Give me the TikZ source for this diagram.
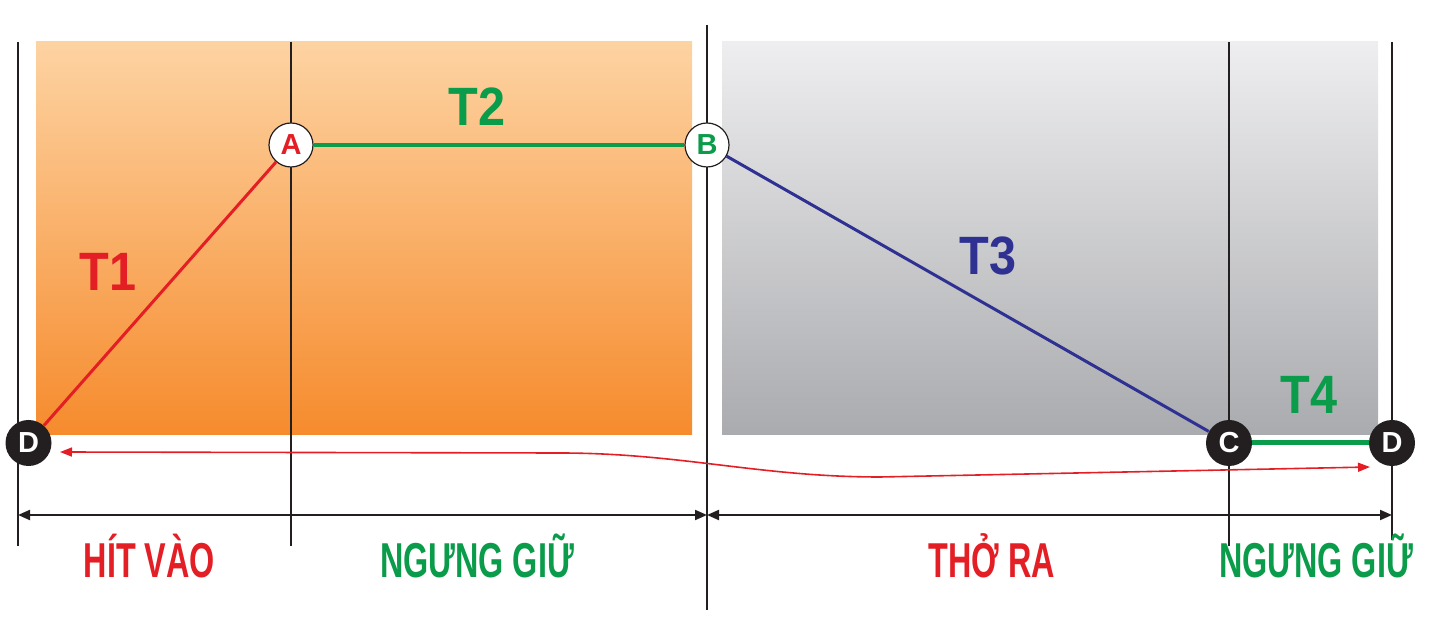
\documentclass[tikz,border=0pt]{standalone}
\usepackage{fontspec}
\setmainfont{Liberation Sans}
\newfontfamily\tfont[FakeStretch=0.9]{Liberation Sans}
\newfontfamily\cfont[FakeStretch=0.66]{Liberation Sans}
\usetikzlibrary{arrows.meta}
\definecolor{myred}{HTML}{E31E24}
\definecolor{mygreen}{HTML}{0A9C4A}
\definecolor{myblue}{HTML}{2E3192}
\definecolor{ortop}{HTML}{FDD3A2}
\definecolor{orbot}{HTML}{F68B2D}
\definecolor{grtop}{HTML}{EEEEF0}
\definecolor{grbot}{HTML}{AAABAE}
\definecolor{dark}{HTML}{231F20}
\tikzset{
  vline/.style={draw=dark, line width=0.75pt},
  wcirc/.style={circle, draw=dark, line width=0.6pt, fill=white, minimum size=22pt, inner sep=0pt, font=\bfseries\fontsize{14.5}{14.5}\selectfont},
  bcirc/.style={circle, fill=dark, minimum size=23pt, inner sep=0pt, text=white, font=\bfseries\fontsize{14.5}{14.5}\selectfont},
  tlabel/.style={font=\tfont\bfseries\fontsize{27}{27}\selectfont, anchor=base, inner sep=0pt},
  blabel/.style={font=\cfont\bfseries\fontsize{24.5}{24.5}\selectfont, anchor=base, inner sep=0pt},
  dimarrow/.style={draw=dark, line width=1pt, {Triangle[length=6pt,width=5pt]}-{Triangle[length=6pt,width=5pt]}},
  redarrow/.style={draw=myred, line width=0.8pt, {Triangle[length=6pt,width=4.5pt]}-{Triangle[length=6pt,width=4.5pt]}},
}
\begin{document}
\begin{tikzpicture}[x=0.5pt, y=-0.5pt]
\useasboundingbox (0,0) rectangle (1429,635);
% backgrounds
\shade[top color=ortop, bottom color=orbot] (36,42) rectangle (692,435);
\shade[top color=grtop, bottom color=grbot] (722,42) rectangle (1378,435);
% vertical lines
\draw[vline] (18,42) -- (18,546);
\draw[vline] (291,42) -- (291,546);
\draw[vline] (707,25) -- (707,610);
\draw[vline] (1229,42) -- (1229,546);
\draw[vline] (1392,42) -- (1392,540);
% dimension arrows
\coordinate (m0) at (18,515);
\coordinate (m1) at (707,515);
\coordinate (m2) at (1392,515);
\draw[dimarrow] (m0) -- (m1);
\draw[dimarrow] (m1) -- (m2);
% red curve arrow
\coordinate (r0) at (60,452);
\coordinate (r1) at (1370,467);
\draw[redarrow] (r1) -- (880,477) .. controls (760,477) and (680,453) .. (560,453) -- (r0);
% nodes
\node[bcirc] (D1) at (28.5,443) {D};
\node[wcirc, text=myred] (A) at (291,145) {A};
\node[wcirc, text=mygreen] (B) at (707,145) {B};
\node[bcirc] (C) at (1229,443) {C};
\node[bcirc] (D2) at (1392,443) {D};
% connectors
\draw[myred, line width=1.5pt] (D1) -- (A);
\draw[mygreen, line width=2pt] (A) -- (B);
\draw[myblue, line width=1.5pt] (B) -- (C);
\draw[mygreen, line width=2.5pt] (C) -- (D2);
% labels
\node[tlabel, text=myred] (t1) at (108,291) {T1};
\node[tlabel, text=mygreen] (t2) at (477,126) {T2};
\node[tlabel, text=myblue] (t3) at (988,275) {T3};
\node[tlabel, text=mygreen] (t4) at (1309,414) {T4};
\node[blabel, text=myred] (l1) at (149.5,577) {HÍT VÀO};
\node[blabel, text=mygreen] (l2) at (477,577) {NGƯNG GIỮ};
\node[blabel, text=myred] (l3) at (992,577) {THỞ RA};
\node[blabel, text=mygreen] (l4) at (1316,577) {NGƯNG GIỮ};
\end{tikzpicture}
\end{document}
